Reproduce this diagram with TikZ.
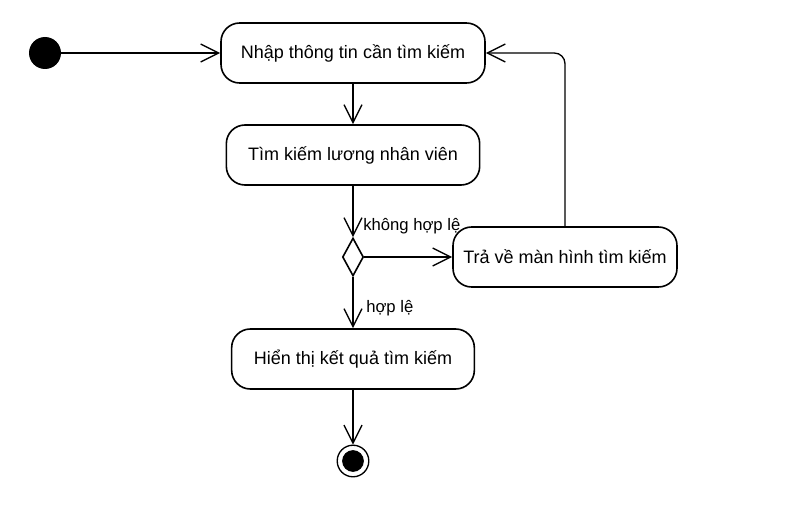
\documentclass[tikz,border=0pt]{standalone}
\usepackage{fontspec}
\setmainfont{Liberation Sans}
\usetikzlibrary{arrows.meta,shapes.geometric,positioning}

\begin{document}
\begin{tikzpicture}[x=0.75pt,y=-0.75pt,
  act/.style={draw,line width=1.2pt,rounded corners=14pt,minimum height=45pt,inner sep=0pt,font=\fontsize{13.5}{16}\selectfont},
  flow/.style={line width=1pt,-{Straight Barb[length=13.5pt,width=13.5pt]}},
  guard/.style={inner sep=0pt,font=\fontsize{12.5}{15}\selectfont},
  dot/.style={circle,fill,inner sep=0pt}]
\useasboundingbox (0,0) rectangle (785,510);
\node[dot,minimum size=24pt] (start) at (45,53) {};
\node[act,minimum width=198pt] (inp) at (353,53) {Nhập thông tin cần tìm kiếm};
\node[act,minimum width=190pt] (srch) at (353,155) {Tìm kiếm lương nhân viên};
\node[diamond,draw,line width=1.2pt,minimum width=15.75pt,minimum height=28.5pt,inner sep=0pt] (dec) at (353,257) {};
\node[act,minimum width=168pt] (ret) at (565,257) {Trả về màn hình tìm kiếm};
\node[act,minimum width=182pt] (show) at (353,359) {Hiển thị kết quả tìm kiếm};
\node[circle,draw,line width=1pt,minimum size=23.7pt,inner sep=0pt] (stop) at (353,461) {};
\node[dot,minimum size=16.3pt] (stopdot) at (stop.center) {};
\node[guard,anchor=west] (nolbl) at (363,226) {không hợp lệ};
\node[guard,anchor=west] (oklbl) at (366,308) {hợp lệ};
\draw[flow] (start) -- (inp);
\draw[flow] (inp) -- (srch);
\draw[flow] (srch) -- (dec);
\draw[flow] (dec) -- (ret);
\draw[flow] (dec) -- (show);
\draw[flow] (show) -- (stop);
\draw[flow,rounded corners=8pt] (ret.north) |- (inp.east);
\end{tikzpicture}
\end{document}
